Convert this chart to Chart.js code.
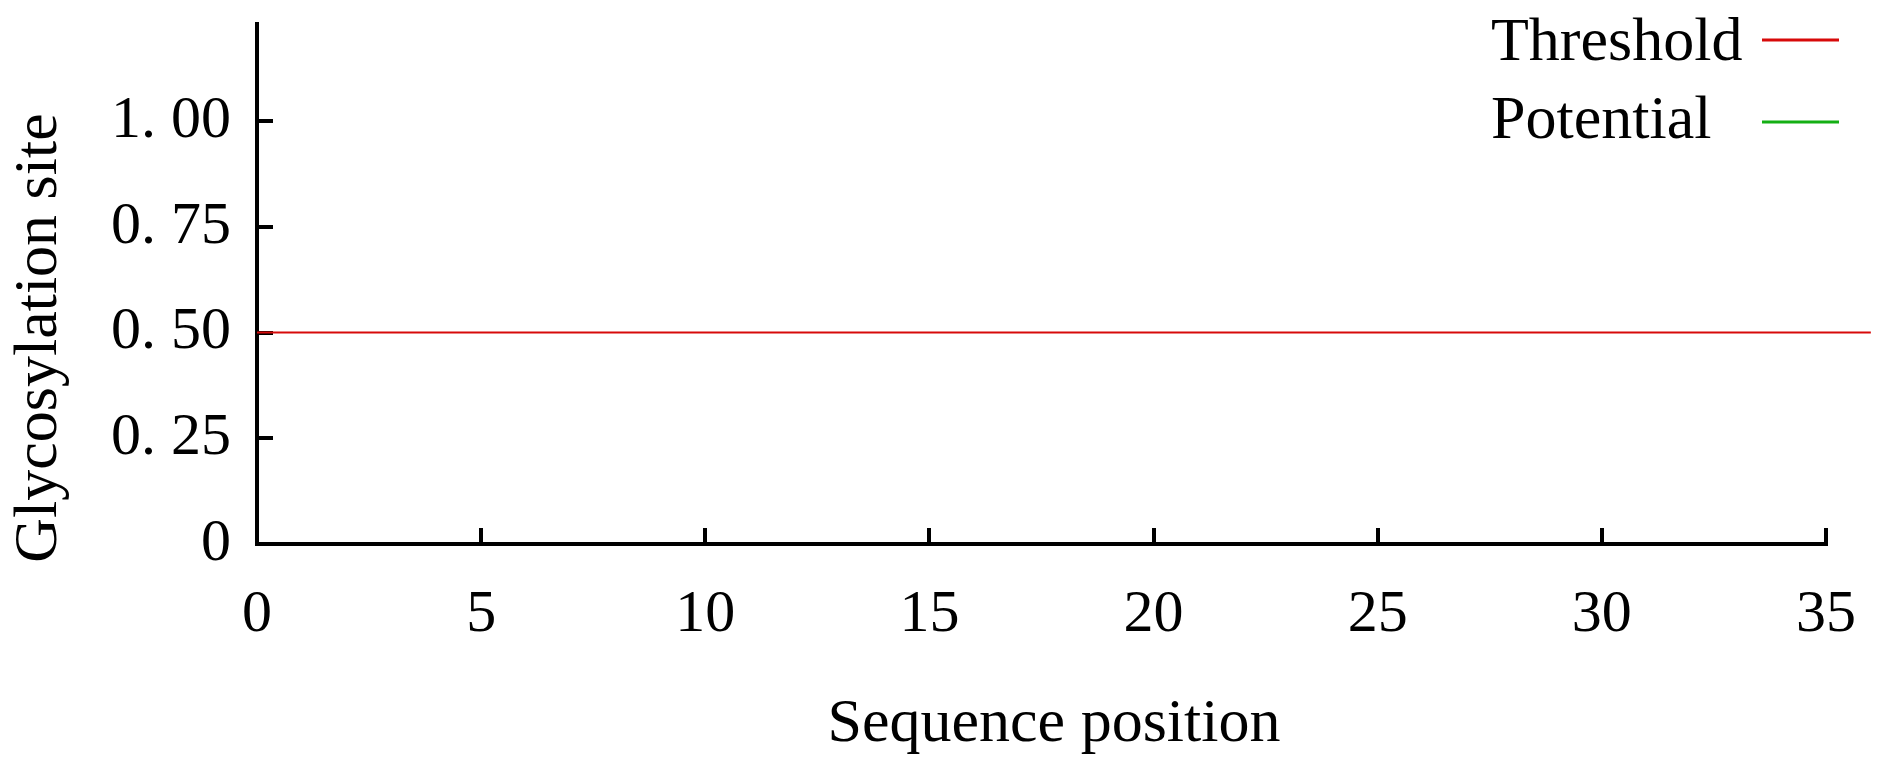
<!DOCTYPE html>
<html>
<head>
<meta charset="utf-8">
<script src="https://cdn.jsdelivr.net/npm/chart.js@4.4.0/dist/chart.umd.min.js"></script>
<style>
html,body{margin:0;padding:0;background:#fff;}
#wrap{width:1890px;height:777px;position:relative;}
</style>
</head>
<body>
<div id="wrap"><canvas id="c" width="1890" height="777"></canvas></div>
<script>
// ---- data ----
const seriesLabels = ['Threshold', 'Potential'];
const thresholdX = [0, 36];
const thresholdY = [0.5, 0.5];
const potentialValues = [];          // no potential peaks visible in the plot
const xTickValues = [0, 5, 10, 15, 20, 25, 30, 35];
const xTickLabels = ['0', '5', '10', '15', '20', '25', '30', '35'];
const yTickValues = [0, 0.25, 0.5, 0.75, 1.0];
const yTickLabels = ['0', '0. 25', '0. 50', '0. 75', '1. 00'];
const xTitle = 'Sequence position';
const yTitle = 'Glycosylation site';

const FONT = '"Liberation Serif", "Times New Roman", serif';

const textPlugin = {
  id: 'legendAndTitles',
  afterDraw(chart) {
    const ctx = chart.ctx;
    const rows = [44, 122];
    const lineY = [40, 122];
    ctx.save();
    ctx.font = '62px ' + FONT;
    ctx.fillStyle = '#000';
    ctx.textBaseline = 'middle';
    // legend: label text followed by a line sample
    ctx.textAlign = 'left';
    chart.data.datasets.forEach((ds, i) => {
      ctx.fillStyle = '#000';
      ctx.fillText(ds.label, 1491, rows[i]);
      ctx.strokeStyle = ds.borderColor;
      ctx.lineWidth = 3;
      ctx.beginPath();
      ctx.moveTo(1762, lineY[i]);
      ctx.lineTo(1839, lineY[i]);
      ctx.stroke();
    });
    // axis titles
    ctx.fillStyle = '#000';
    ctx.textAlign = 'center';
    ctx.fillText(xTitle, 1054, 725);
    ctx.translate(40, 338);
    ctx.rotate(-Math.PI / 2);
    ctx.fillText(yTitle, 0, 0);
    ctx.restore();
  }
};

function zeroPad(s) { s.paddingTop = 0; s.paddingBottom = 0; s.paddingLeft = 0; s.paddingRight = 0; }

new Chart(document.getElementById('c'), {
  type: 'line',
  data: {
    datasets: [
      {
        label: seriesLabels[0],
        data: thresholdX.map((x, i) => ({x: x, y: thresholdY[i]})),
        borderColor: 'rgb(215,10,10)',
        borderWidth: 2,
        pointRadius: 0,
        clip: false
      },
      {
        label: seriesLabels[1],
        data: potentialValues.map((v, i) => ({x: i + 1, y: v})),
        borderColor: 'rgb(20,175,20)',
        borderWidth: 2,
        pointRadius: 0
      }
    ]
  },
  options: {
    responsive: false,
    animation: false,
    layout: {padding: {top: 24, right: 64, left: 0, bottom: 0}},
    plugins: {legend: {display: false}, tooltip: {enabled: false}},
    scales: {
      x: {
        type: 'linear',
        min: 0, max: 35,
        afterBuildTicks: s => { s.ticks = xTickValues.map(v => ({value: v})); },
        afterFit: s => { s.height = 233; zeroPad(s); },
        ticks: {
          autoSkip: false, maxRotation: 0,
          padding: 51,
          color: '#000',
          font: {family: FONT, size: 60},
          callback: (v) => { const i = xTickValues.indexOf(v); return i >= 0 ? xTickLabels[i] : ''; }
        },
        grid: {drawOnChartArea: false, drawTicks: true, tickLength: -16, color: '#000', lineWidth: 4},
        border: {display: true, color: '#000', width: 4},
        title: {display: false, text: xTitle}
      },
      y: {
        type: 'linear',
        min: 0, max: 1.23,
        afterBuildTicks: s => { s.ticks = yTickValues.map(v => ({value: v})); },
        afterFit: s => { s.width = 257; zeroPad(s); },
        ticks: {
          padding: 42,
          color: '#000',
          font: {family: FONT, size: 60},
          callback: (v) => { const i = yTickValues.indexOf(v); return i >= 0 ? yTickLabels[i] : ''; }
        },
        grid: {drawOnChartArea: false, drawTicks: true, tickLength: -16, color: '#000', lineWidth: 4},
        border: {display: true, color: '#000', width: 4},
        title: {display: false, text: yTitle}
      }
    }
  },
  plugins: [textPlugin]
});
</script>
</body>
</html>
